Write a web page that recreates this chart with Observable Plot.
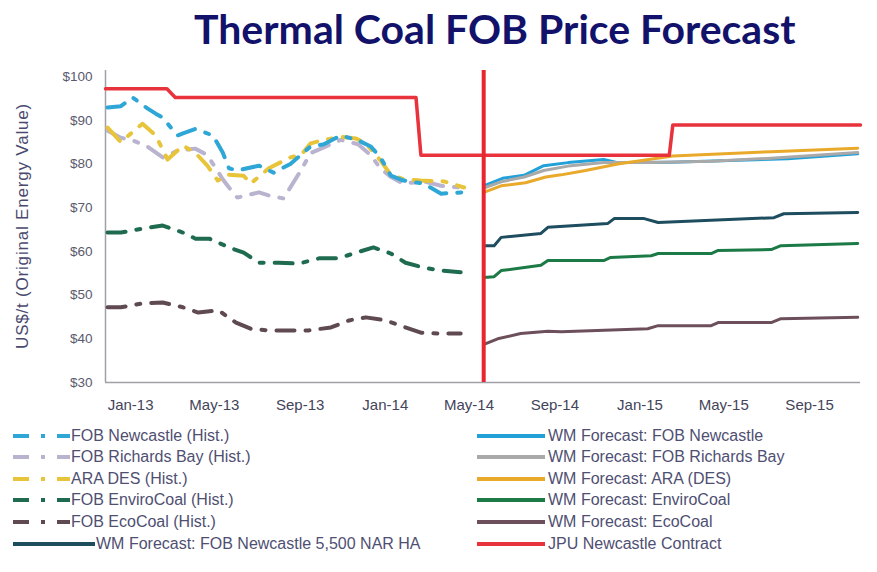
<!DOCTYPE html>
<html><head><meta charset="utf-8">
<script src="https://cdn.jsdelivr.net/npm/d3@7"></script>
<script src="https://cdn.jsdelivr.net/npm/@observablehq/plot@0.6"></script>
<style>
body{margin:0;background:#fff;width:877px;height:572px;overflow:hidden;position:relative;font-family:"Liberation Sans",Arial,sans-serif;}
#title{position:absolute;left:0;top:5px;width:877px;padding-left:194px;box-sizing:border-box;font-family:Lato,"Open Sans",sans-serif;font-weight:700;font-size:41px;letter-spacing:0px;color:#12126b;white-space:nowrap;line-height:48px;}
#chart{position:absolute;left:0;top:62px;}
#ylab{position:absolute;left:23px;top:226px;transform:translate(-50%,-50%) rotate(-90deg);white-space:nowrap;font-size:17px;letter-spacing:0.8px;color:#4a4a6e;}
.lg{position:absolute;font-size:16px;color:#4f4f72;white-space:nowrap;line-height:20px;}
.sw{position:absolute;}
</style></head>
<body>
<div id="title">Thermal Coal FOB Price Forecast</div>
<div id="chart"></div>
<div id="ylab">US$/t (Original Energy Value)</div>
<div id="legend"></div>
<script>
// ---------- data (date, US$/t) ----------
const histNewcastle = [["2012-11-29",92.9],["2012-12-18",93.2],["2013-01-04",95.2],["2013-01-25",92.7],["2013-02-06",91.5],["2013-02-16",90.6],["2013-03-09",86.5],["2013-03-17",87.0],["2013-04-04",88.0],["2013-04-29",86.5],["2013-05-13",82.6],["2013-05-22",79.0],["2013-06-03",78.5],["2013-07-04",79.6],["2013-07-25",78.0],["2013-08-18",80.0],["2013-09-16",84.0],["2013-10-05",84.5],["2013-10-29",86.5],["2013-11-23",85.4],["2013-12-11",84.0],["2013-12-25",81.5],["2014-01-09",77.3],["2014-01-27",76.2],["2014-02-25",75.5],["2014-03-22",73.2],["2014-04-24",73.5]];
const histRichardsBay = [["2012-11-29",87.6],["2012-12-18",86.0],["2013-01-04",85.4],["2013-01-25",84.0],["2013-02-16",81.5],["2013-03-09",83.0],["2013-04-04",83.5],["2013-04-21",82.0],["2013-05-13",76.5],["2013-05-22",74.6],["2013-06-03",72.3],["2013-07-04",73.5],["2013-07-18",72.8],["2013-08-08",72.1],["2013-09-02",78.5],["2013-09-16",82.5],["2013-10-05",83.8],["2013-10-29",85.5],["2013-11-23",84.5],["2013-12-11",82.0],["2013-12-25",79.0],["2014-01-09",77.0],["2014-01-27",75.5],["2014-02-25",76.0],["2014-03-22",75.0],["2014-04-24",74.5]];
const histARA = [["2012-11-29",88.3],["2012-12-18",85.0],["2013-01-18",89.2],["2013-02-06",86.5],["2013-02-23",81.0],["2013-03-17",84.2],["2013-04-04",82.5],["2013-04-21",79.6],["2013-05-06",76.2],["2013-05-22",77.5],["2013-06-12",77.3],["2013-06-22",75.5],["2013-07-18",79.0],["2013-08-18",81.5],["2013-09-02",82.0],["2013-09-16",84.7],["2013-10-05",85.5],["2013-10-29",86.2],["2013-11-20",85.8],["2013-12-04",84.7],["2013-12-25",80.8],["2014-01-09",77.5],["2014-01-27",76.5],["2014-02-21",76.2],["2014-03-26",76.0],["2014-04-24",74.6]];
const histEnviroCoal = [["2012-11-29",64.3],["2012-12-18",64.3],["2013-01-18",65.2],["2013-02-16",65.9],["2013-03-17",64.3],["2013-04-04",62.9],["2013-04-24",62.9],["2013-05-22",60.9],["2013-06-12",59.7],["2013-07-04",57.4],["2013-08-01",57.4],["2013-08-30",57.2],["2013-09-28",58.4],["2013-10-26",58.4],["2013-11-20",59.7],["2013-12-15",60.9],["2014-01-09",59.5],["2014-01-30",57.4],["2014-02-24",56.3],["2014-03-22",55.6],["2014-04-19",55.2]];
const histEcoCoal = [["2012-11-29",47.2],["2012-12-18",47.2],["2013-01-18",48.1],["2013-02-16",48.3],["2013-03-17",47.2],["2013-04-08",46.0],["2013-05-07",46.5],["2013-06-01",43.7],["2013-06-22",42.3],["2013-07-18",41.9],["2013-08-18",41.9],["2013-09-13",41.9],["2013-10-15",42.6],["2013-11-10",44.2],["2013-12-04",44.9],["2014-01-02",44.2],["2014-01-23",43.0],["2014-02-21",41.4],["2014-03-19",41.2],["2014-04-19",41.2]];

const wmNewcastle5500 = [["2014-05-22",61.3],["2014-06-06",61.3],["2014-06-16",63.2],["2014-08-12",64.1],["2014-08-22",65.5],["2014-11-16",66.4],["2014-11-25",67.5],["2015-01-07",67.5],["2015-01-27",66.6],["2015-07-12",67.7],["2015-07-26",68.6],["2015-11-09",68.9]];
const wmNewcastle = [["2014-05-22",75.0],["2014-06-18",76.7],["2014-07-19",77.4],["2014-08-16",79.6],["2014-09-20",80.3],["2014-11-10",81.0],["2014-11-30",80.3],["2015-02-14",80.4],["2015-08-01",81.2],["2015-11-09",82.3]];
const wmRichardsBay = [["2014-05-22",74.5],["2014-06-18",76.0],["2014-07-19",77.0],["2014-08-16",78.5],["2014-09-20",79.5],["2014-11-10",80.3],["2015-01-17",80.3],["2015-04-13",80.6],["2015-07-08",81.3],["2015-11-09",82.6]];
const wmARA = [["2014-05-22",73.5],["2014-06-16",75.0],["2014-07-21",75.7],["2014-08-19",77.0],["2014-09-10",77.5],["2014-10-15",78.5],["2014-11-30",80.0],["2015-02-17",81.8],["2015-07-08",82.8],["2015-11-09",83.6]];
const wmEnviroCoal = [["2014-05-22",54.0],["2014-06-06",54.2],["2014-06-16",55.6],["2014-08-12",56.8],["2014-08-22",57.9],["2014-11-10",57.9],["2014-11-20",58.6],["2015-01-17",59.0],["2015-01-27",59.5],["2015-04-13",59.5],["2015-04-23",60.2],["2015-07-08",60.4],["2015-07-22",61.3],["2015-11-09",61.8]];
const wmEcoCoal = [["2014-05-25",38.9],["2014-06-11",40.0],["2014-07-14",41.2],["2014-08-22",41.7],["2014-09-10",41.6],["2015-01-12",42.3],["2015-01-27",43.0],["2015-04-13",43.0],["2015-04-23",43.7],["2015-07-08",43.7],["2015-07-22",44.6],["2015-11-09",44.9]];
const jpuContract = [["2012-11-26",97.2],["2013-02-22",97.2],["2013-03-06",95.2],["2014-02-14",95.2],["2014-02-21",82.0],["2015-02-12",82.0],["2015-02-17",88.9],["2015-11-13",88.9]];

const forecastStart = "2014-05-22";
const xDomain = ["2012-11-26","2015-11-13"];
const xTicks = ["2013-01-01","2013-05-01","2013-09-01","2014-01-01","2014-05-01","2014-09-01","2015-01-01","2015-05-01","2015-09-01"];
const yTicks = [30,40,50,60,70,80,90,100];

const histLegend = ["FOB Newcastle (Hist.)","FOB Richards Bay (Hist.)","ARA DES (Hist.)","FOB EnviroCoal (Hist.)","FOB EcoCoal (Hist.)"];
const histColors = ["#2ea6d6","#b9b3cf","#e7c43a","#1f6b4f","#5f4a52"];
const wmLegend = ["WM Forecast: FOB Newcastle","WM Forecast: FOB Richards Bay","WM Forecast: ARA (DES)","WM Forecast: EnviroCoal","WM Forecast: EcoCoal","JPU Newcastle Contract"];
const wmColors = ["#22a0d8","#a9a9a9","#e9a92a","#1b7a45","#6d4f5b","#e8323c"];
const wm5500Label = "WM Forecast: FOB Newcastle 5,500 NAR HA";
const wm5500Color = "#1d4d5e";

// ---------- build ----------
const parse = d3.utcParse("%Y-%m-%d");
const toRows = arr => arr.map(([d, v]) => ({date: parse(d), value: v}));
const histSeries = [histEcoCoal, histEnviroCoal, histRichardsBay, histARA, histNewcastle];
const histSeriesColors = [histColors[4], histColors[3], histColors[1], histColors[2], histColors[0]];
const dash = "18,11,4,11";

const marks = [
  Plot.ruleY([30], {stroke: "#a0a0a8", strokeWidth: 1.5}),
  Plot.ruleX([parse(xDomain[0])], {y1: 30, y2: 101.4, stroke: "#a0a0a8", strokeWidth: 1.5}),
  Plot.axisX({ticks: xTicks.map(parse), tickFormat: d3.utcFormat("%b-%y"), tickSize: 0, tickPadding: 17, fontSize: 15, fill: "#44445a", label: null}),
  Plot.axisY({ticks: yTicks, tickFormat: d => "$" + d, tickSize: 0, tickPadding: 13, fontSize: 13.5, fill: "#5a5a6e", label: null})
];
histSeries.forEach((s, i) => marks.push(Plot.line(toRows(s), {x: "date", y: "value", stroke: histSeriesColors[i], strokeWidth: 4, strokeDasharray: dash})));
const fSeries = [wmEcoCoal, wmEnviroCoal, wmNewcastle5500, wmNewcastle, wmRichardsBay, wmARA];
const fColors = [wmColors[4], wmColors[3], wm5500Color, wmColors[0], wmColors[1], wmColors[2]];
fSeries.forEach((s, i) => marks.push(Plot.line(toRows(s), {x: "date", y: "value", stroke: fColors[i], strokeWidth: 3})));
marks.push(Plot.line(toRows(jpuContract), {x: "date", y: "value", stroke: wmColors[5], strokeWidth: 3.5}));
marks.push(Plot.ruleX([parse(forecastStart)], {y1: 30, y2: 101.4, stroke: "#e8262f", strokeWidth: 4}));

const chart = Plot.plot({
  width: 877, height: 360,
  marginTop: 14, marginBottom: 40, marginLeft: 105, marginRight: 17,
  style: {fontFamily: "'Liberation Sans', Arial, sans-serif", background: "white"},
  x: {type: "utc", domain: xDomain.map(parse)},
  y: {domain: [30, 100]},
  marks
});
document.getElementById("chart").appendChild(chart);

// ---------- legend ----------
const lg = document.getElementById("legend");
const rowY = [436, 457, 479, 500, 522, 544];
function addSwatch(x, y, w, color, dashed) {
  const ns = "http://www.w3.org/2000/svg";
  const svg = document.createElementNS(ns, "svg");
  svg.setAttribute("width", w); svg.setAttribute("height", 8);
  svg.setAttribute("class", "sw");
  svg.style.left = x + "px"; svg.style.top = (y - 4) + "px";
  const l = document.createElementNS(ns, "line");
  l.setAttribute("x1", 0); l.setAttribute("x2", w); l.setAttribute("y1", 4); l.setAttribute("y2", 4);
  l.setAttribute("stroke", color); l.setAttribute("stroke-width", 4);
  if (dashed) l.setAttribute("stroke-dasharray", "16,12,4,12");
  svg.appendChild(l); lg.appendChild(svg);
}
function addText(x, y, t) {
  const d = document.createElement("div");
  d.className = "lg"; d.textContent = t;
  d.style.left = x + "px"; d.style.top = (y - 10) + "px";
  lg.appendChild(d);
}
histLegend.forEach((t, i) => { addSwatch(13, rowY[i], 57, histColors[i], true); addText(71, rowY[i], t); });
addSwatch(13, rowY[5], 82, wm5500Color, false); addText(96, rowY[5], wm5500Label);
wmLegend.forEach((t, i) => { addSwatch(477, rowY[i], 68, wmColors[i], false); addText(548, rowY[i], t); });
</script>
</body></html>
